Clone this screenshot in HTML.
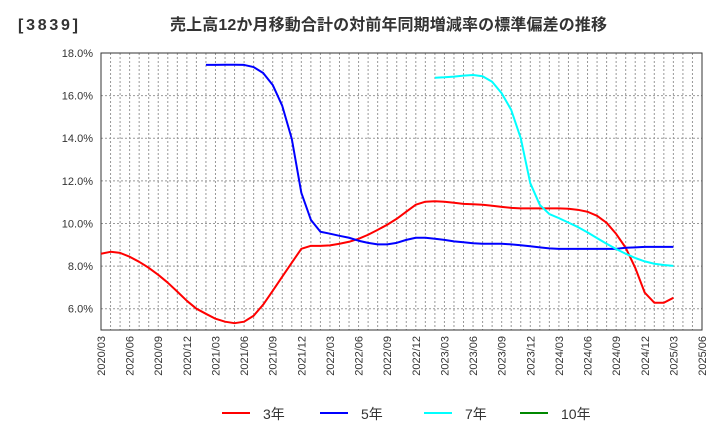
<!DOCTYPE html>
<html><head><meta charset="utf-8"><style>
body{margin:0;background:#fff;font-family:"Liberation Sans","Noto Sans CJK JP",sans-serif}
</style></head><body>
<svg id="c" width="720" height="440" xmlns="http://www.w3.org/2000/svg" font-family="Liberation Sans, Noto Sans CJK JP, sans-serif">
<g>
<text x="18" y="30" font-size="16" font-weight="bold" fill="#333" textLength="60" lengthAdjust="spacing">[3839]</text>
<text x="170" y="30" font-size="16" font-weight="bold" fill="#333" textLength="437" lengthAdjust="spacing">売上高12か月移動合計の対前年同期増減率の標準偏差の推移</text>
</g>
<g id="grid"></g><g id="axes"></g><g id="series"></g>
<g>
<line x1="222" y1="413" x2="250" y2="413" stroke="#f00" stroke-width="2"/><text x="263" y="419" font-size="14" fill="#333">3年</text>
<line x1="320" y1="413" x2="348" y2="413" stroke="#00f" stroke-width="2"/><text x="361" y="419" font-size="14" fill="#333">5年</text>
<line x1="424" y1="413" x2="452" y2="413" stroke="#0ff" stroke-width="2"/><text x="465" y="419" font-size="14" fill="#333">7年</text>
<line x1="520" y1="413" x2="548" y2="413" stroke="#080" stroke-width="2"/><text x="561" y="419" font-size="14" fill="#333">10年</text>
</g>
</svg>
<script>
const yTicks=[6,8,10,12,14,16,18];
const xTickLabels=["2020/03","2020/06","2020/09","2020/12","2021/03","2021/06","2021/09","2021/12","2022/03","2022/06","2022/09","2022/12","2023/03","2023/06","2023/09","2023/12","2024/03","2024/06","2024/09","2024/12","2025/03","2025/06"];
const s3=[8.58,8.67,8.62,8.44,8.20,7.92,7.59,7.22,6.80,6.37,6.00,5.76,5.53,5.39,5.32,5.39,5.67,6.19,6.84,7.50,8.16,8.81,8.95,8.95,8.97,9.05,9.14,9.28,9.47,9.70,9.94,10.22,10.55,10.88,11.02,11.04,11.02,10.97,10.92,10.90,10.88,10.83,10.78,10.73,10.71,10.71,10.71,10.71,10.71,10.69,10.64,10.55,10.36,10.03,9.51,8.86,7.92,6.75,6.28,6.28,6.51];
const s5Start=11;
const s5=[17.44,17.44,17.45,17.45,17.44,17.34,17.06,16.50,15.52,13.97,11.44,10.17,9.61,9.52,9.42,9.33,9.19,9.09,9.02,9.02,9.09,9.23,9.33,9.33,9.28,9.23,9.16,9.12,9.07,9.05,9.05,9.05,9.02,8.98,8.93,8.88,8.83,8.81,8.81,8.81,8.81,8.81,8.81,8.81,8.86,8.88,8.90,8.90,8.90,8.90];
const s7Start=35;
const s7=[16.84,16.86,16.89,16.94,16.97,16.91,16.65,16.11,15.33,14.00,11.89,10.87,10.44,10.25,10.04,9.83,9.58,9.31,9.05,8.80,8.58,8.38,8.22,8.11,8.05,8.01];
const L=101,R=702,T=53,B=330,yMin=5,yMax=18,nMonths=63;
const X=i=>L+(R-L)*i/nMonths;
const Y=v=>B-(v-yMin)/(yMax-yMin)*(B-T);
const NS="http://www.w3.org/2000/svg";
function mk(t,a,p){const e=document.createElementNS(NS,t);for(const k in a)e.setAttribute(k,a[k]);p.appendChild(e);return e;}
const g=document.getElementById('grid'),ax=document.getElementById('axes'),se=document.getElementById('series');
for(let i=1;i<nMonths;i++){const l=mk('line',{x1:X(i),x2:X(i),y1:T,y2:B,stroke:'#999','stroke-width':1,'stroke-dasharray':'2,2'},g);

}
yTicks.forEach(v=>{const l=mk('line',{x1:L,x2:R,y1:Y(v),y2:Y(v),stroke:'#999','stroke-width':1,'stroke-dasharray':'2,2'},g);


const t=mk('text',{x:L-8,y:Y(v)+4,'text-anchor':'end','font-size':11,fill:'#333'},ax);t.textContent=v.toFixed(1)+'%';

});
const fr=mk('rect',{x:L,y:T,width:R-L,height:B-T,fill:'none',stroke:'#333','stroke-width':1},ax);


xTickLabels.forEach((s,i)=>{const x=X(i*3)+4,y=B+6;const t=mk('text',{x:x,y:y,'text-anchor':'end','font-size':11,fill:'#333',transform:`rotate(-90 ${x} ${y})`},ax);t.textContent=s;

});
function line(arr,st,col,name){const p=mk('polyline',{points:arr.map((v,i)=>X(st+i)+','+Y(v)).join(' '),fill:'none',stroke:col,'stroke-width':2,'stroke-linejoin':'round'},se);

}
line(s3,0,'#f00','series-3y');line(s5,s5Start,'#00f','series-5y');line(s7,s7Start,'#0ff','series-7y');
</script>
</body></html>
